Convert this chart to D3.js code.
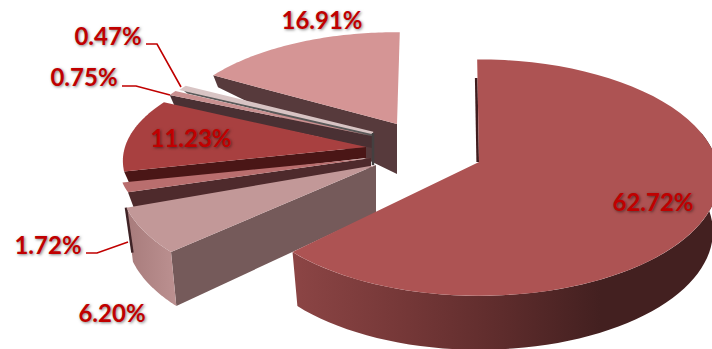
<!DOCTYPE html>
<html>
<head>
<meta charset="utf-8">
<script src="https://cdn.jsdelivr.net/npm/d3@7"></script>
<style>
  html, body { margin: 0; padding: 0; background: #fff; overflow: hidden; }
  svg { display: block; }
  .pct { font: 700 24px Lato, "Open Sans", sans-serif; fill: #c00000; text-anchor: middle;
         text-shadow: 1px 1px 3px rgba(0,0,0,.5); }
</style>
</head>
<body>
<svg id="chart" width="712" height="349"></svg>
<script>
// Share of each segment, clockwise from twelve o'clock
const segments = ["A", "B", "C", "D", "E", "F", "G"];
const shares = [62.72, 6.20, 1.72, 11.23, 0.75, 0.47, 16.91];

// Exploded-pie layout, one entry per segment
const centreX = [479, 376, 371, 366, 372, 373, 397];
const centreY = [162, 165, 158, 147, 136, 133, 124];
const radius  = [238, 254, 249, 241, 235, 228, 226];
const tilt    = [.488, .46, .35, .43, .44, .44, .46];
const twist   = [-0.5, 1.5, 0, 2.5, 0, 0, 0.8];
const dropRim  = [54, 54, 17, 14, 12, 4, 12];
const dropApex = [48, 48, 10, 11, 12, 4, 50];
const faceFill = ["#ad5353", "#c29898", "#b96e6e", "#a84040", "#c99090", "#d8c4c4", "#d59595"];
const wallFill = ["#3f1c1e", "#755a5a", "#4e2a2c", "#4a1616", "#4a3033", "#5a5a5a", "#573a3c"];
const faceEdge = [0, 0, 0, 0, 0, 2.4, 0];

// Paint order: back of the pie first
const paintOrder = [6, 5, 4, 3, 2, 1, 0];

const labelX = [653, 112, 48, 191, 84, 108, 322];
const labelY = [203, 314, 246, 139, 78, 37, 21];
const leaders = [
  [[146, 44], [157, 44], [181, 87]],
  [[122, 86], [136, 86], [170, 95]],
  [[86, 253], [97, 253], [128, 242]]
];

const perspective = 0.132;
const svg = d3.select("#chart");
const pie = d3.pie().sort(null).value(d => d);
const arcs = pie(shares);
const line = d3.line();

function project(i, theta, rho) {
  const a = theta + twist[i] * Math.PI / 180;
  const u = rho * Math.sin(a), v = rho * Math.cos(a);
  const s = 1 / (1 + perspective * v);
  return [centreX[i] + u * radius[i] * s, centreY[i] - v * radius[i] * tilt[i] * s];
}
function lower(i, p, drop) {
  return [p[0] + (centreX[i] - p[0]) * 0.026, p[1] + drop];
}
function rimPoints(i, a0, a1) {
  return d3.range(0, 61).map(k => project(i, a0 + (a1 - a0) * k / 60, 1));
}

const defs = svg.append("defs");
function hGradient(id, x0, x1, stops) {
  const g = defs.append("linearGradient").attr("id", id)
    .attr("gradientUnits", "userSpaceOnUse").attr("x1", x0).attr("x2", x1).attr("y1", 0).attr("y2", 0);
  stops.forEach(([o, c]) => g.append("stop").attr("offset", o).attr("stop-color", c));
}
hGradient("mainRim", 292, 600, [[0, "#8c4545"], [.35, "#763838"], [.68, "#5e2c2c"], [1, "#432020"]]);
hGradient("sideRim", 128, 175, [[0, "#a87c7c"], [1, "#bb9090"]]);

const rimFill = { 0: "url(#mainRim)", 1: "url(#sideRim)" };

paintOrder.forEach(i => {
  const { startAngle: a0, endAngle: a1 } = arcs[i];
  const apex = project(i, a0, 0);
  const g = svg.append("g").attr("class", "segment-" + segments[i]);

  // Back-edge sliver of the largest segment
  if (i === 0) {
    g.append("path")
      .attr("d", line([project(0, 0, 0.8), project(0, 0, 0)].map(p => [p[0] - 1.3, p[1]])))
      .attr("stroke", "#3f1c1e").attr("stroke-width", 2.6).attr("fill", "none");
  }

  // Dark inner ends of the thin segments, meeting at the hub
  if (i === 1) {
    const hub = project(5, a0, 0);
    g.append("path")
      .attr("d", line([hub, lower(5, hub, 32)]))
      .attr("stroke", "#444040").attr("stroke-width", 2.5).attr("fill", "none");
  }

  // Radial wall under the leading edge
  const edge = project(i, a0, 1);
  if (i !== 0) {
    g.append("path")
      .attr("d", line([apex, edge, lower(i, edge, dropRim[i]), lower(i, apex, dropApex[i])]) + "Z")
      .attr("fill", wallFill[i]);
  }

  // Curved outer wall where it faces the viewer
  if (rimFill[i]) {
    const from = i === 0 ? Math.PI * 0.42 : a0;
    const top = rimPoints(i, from, a1);
    const bottom = top.map(p => lower(i, p, dropRim[i])).reverse();
    g.append("path").attr("d", line(top.concat(bottom)) + "Z").attr("fill", rimFill[i]);
  }

  // Dark wall of the neighbouring thin segment, peeking past the left corner
  if (i === 1) {
    const corner = project(i, a1, 1);
    g.append("path")
      .attr("d", line([corner, lower(i, corner, dropRim[i] - 9)].map(p => [p[0] - 0.5, p[1]])))
      .attr("stroke", "#3f2326").attr("stroke-width", 2.5).attr("fill", "none");
  }

  // Top face
  g.append("path")
    .attr("d", line([apex].concat(rimPoints(i, a0, a1))) + "Z")
    .attr("fill", faceFill[i])
    .attr("stroke", faceEdge[i] ? faceFill[i] : "none")
    .attr("stroke-width", faceEdge[i]);
});

// Leader lines for the small segments
svg.append("g").selectAll("path").data(leaders).join("path")
  .attr("d", d => line(d))
  .attr("fill", "none").attr("stroke", "#c00000").attr("stroke-width", 1.6);

// Percentage labels
const fmt = d3.format(".2f");
svg.append("g").selectAll("text").data(shares).join("text")
  .attr("class", "pct")
  .attr("x", (d, i) => labelX[i])
  .attr("y", (d, i) => labelY[i])
  .attr("dy", "0.35em")
  .text(d => fmt(d) + "%");
</script>
</body>
</html>
